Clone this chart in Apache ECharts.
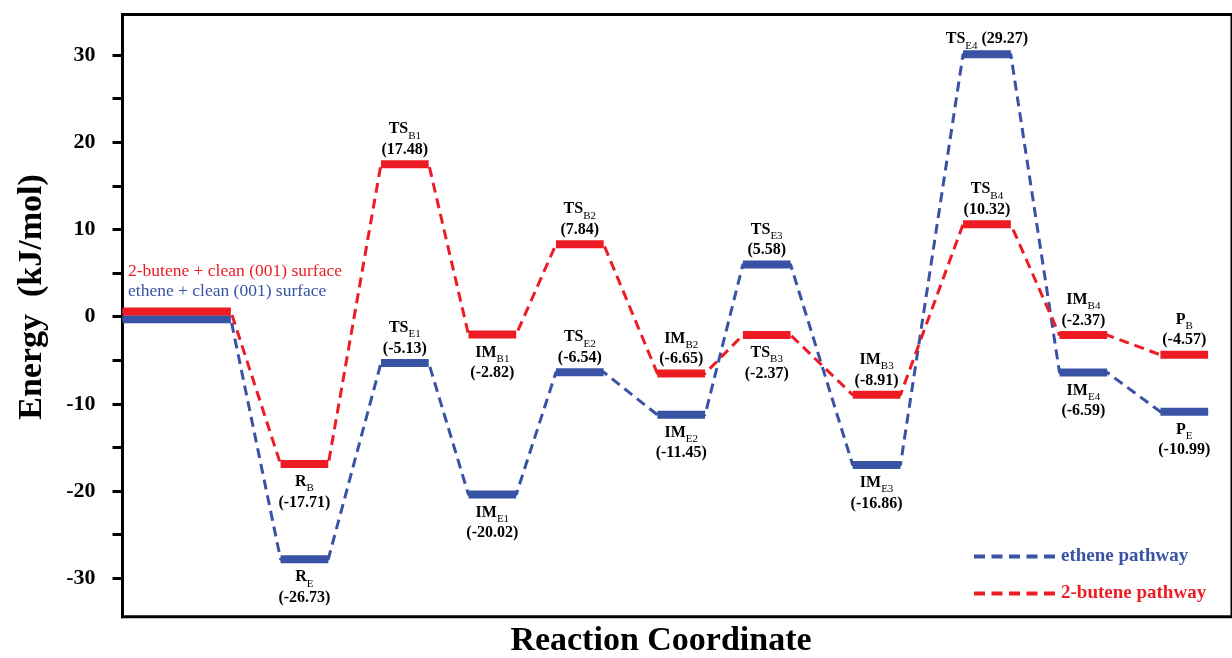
<!DOCTYPE html>
<html><head><meta charset="utf-8">
<script src="https://cdn.jsdelivr.net/npm/echarts@6/dist/echarts.min.js"></script>
<style>html,body{margin:0;padding:0;background:#fff}#c{width:1232px;height:658px}</style>
</head><body><div id="c"></div>
<script>
// ---------- data ----------
const stageNames = ['Start','R','TS1','IM1','TS2','IM2','TS3','IM3','TS4','IM4','P'];
const stageX = [0.545, 1.83, 2.84, 3.72, 4.60, 5.62, 6.48, 7.585, 8.695, 9.665, 10.68];
// drawn level positions (kJ/mol)
const etheneEnergy = [-0.3, -27.8, -5.3, -20.4, -6.36, -11.25, 5.99, -17.0, 30.1, -6.4, -10.9];
const buteneEnergy = [0.6, -16.9, 17.5, -2.04, 8.3, -6.5, -2.1, -8.96, 10.6, -2.1, -4.37];
// label texts
const etheneMain = ['', 'R', 'TS', 'IM', 'TS', 'IM', 'TS', 'IM', 'TS', 'IM', 'P'];
const etheneSub  = ['', 'E', 'E1', 'E1', 'E2', 'E2', 'E3', 'E3', 'E4', 'E4', 'E'];
const etheneVal  = ['', '(-26.73)', '(-5.13)', '(-20.02)', '(-6.54)', '(-11.45)', '(5.58)', '(-16.86)', '(29.27)', '(-6.59)', '(-10.99)'];
const buteneMain = ['', 'R', 'TS', 'IM', 'TS', 'IM', 'TS', 'IM', 'TS', 'IM', 'P'];
const buteneSub  = ['', 'B', 'B1', 'B1', 'B2', 'B2', 'B3', 'B3', 'B4', 'B4', 'B'];
const buteneVal  = ['', '(-17.71)', '(17.48)', '(-2.82)', '(7.84)', '(-6.65)', '(-2.37)', '(-8.91)', '(10.32)', '(-2.37)', '(-4.57)'];
const etheneSide = ['none', 'below', 'above', 'below', 'above', 'below', 'above', 'below', 'inline', 'below', 'below'];
const buteneSide = ['none', 'below', 'above', 'below', 'above', 'above', 'below', 'above', 'above', 'above', 'above'];
const yLabelValues = [-30, -20, -10, 0, 10, 20, 30];
const yTickValues = [-30, -25, -20, -15, -10, -5, 0, 5, 10, 15, 20, 25, 30];
const seriesNames = ['ethene pathway', '2-butene pathway'];
const noteTexts = ['2-butene + clean (001) surface', 'ethene + clean (001) surface'];

// ---------- style ----------
const BLUE = '#3953a4', RED = '#ed1c24';
const FONT = "'Liberation Serif','Times New Roman',serif";
const HALF_W = 0.24, START_HALF_W = 0.545;

function pathPoints(energy) {
  const pts = [];
  energy.forEach((e, i) => {
    const hw = i === 0 ? START_HALF_W : HALF_W;
    pts.push([stageX[i] - hw, e]);
    pts.push([stageX[i] + hw, e]);
  });
  return pts;
}

const rich = {
  h: {fontSize: 16, fontWeight: 'bold', fontFamily: FONT, color: '#000', lineHeight: 20, verticalAlign: 'top'},
  n: {fontSize: 16, fontWeight: 'bold', fontFamily: FONT, color: '#000', lineHeight: 17},
  s: {fontSize: 11, fontFamily: FONT, color: '#000', verticalAlign: 'bottom'}
};

function makeRender(color, mains, subs, vals, sides) {
  return function (params, api) {
    const i = params.dataIndex;
    const x = api.value(0), y = api.value(1);
    const hw = i === 0 ? START_HALF_W : HALF_W;
    const p0 = api.coord([x - hw, y]);
    const p1 = api.coord([x + hw, y]);
    const children = [{
      type: 'rect',
      shape: {x: p0[0], y: p0[1] - 4, width: p1[0] - p0[0], height: 8},
      style: {fill: color}
    }];
    const side = sides[i];
    const cx = (p0[0] + p1[0]) / 2;
    if (side !== 'none') {
      let text, ty, va;
      if (side === 'inline') {
        text = '{h|' + mains[i] + '}{s|' + subs[i] + '}{h| ' + vals[i] + '}';
        ty = p0[1] - 3; va = 'bottom';
      } else {
        text = '{h|' + mains[i] + '}{s|' + subs[i] + '}\n{n|' + vals[i] + '}';
        if (side === 'above') { ty = p0[1] - 6; va = 'bottom'; }
        else { ty = p0[1] + 10; va = 'top'; }
      }
      children.push({
        type: 'text', x: cx, y: ty,
        style: {text: text, rich: rich, align: 'center', verticalAlign: va}
      });
    }
    return {type: 'group', children: children};
  };
}

const chart = echarts.init(document.getElementById('c'));
chart.setOption({
  animation: false,
  backgroundColor: '#fff',
  grid: {left: 122.5, top: 14.5, right: -6, bottom: 41.3, show: true, borderWidth: 3, borderColor: '#000'},
  xAxis: {type: 'value', min: 0, max: 11.16, show: false},
  yAxis: {
    type: 'value', min: -34.4, max: 34.66,
    axisLine: {show: true, lineStyle: {color: '#000', width: 3}},
    axisTick: {show: true, length: 10, inside: false, lineStyle: {color: '#000', width: 3}, customValues: yTickValues},
    axisLabel: {show: true, margin: 27, color: '#000', fontSize: 22, fontWeight: 'bold', fontFamily: FONT, customValues: yLabelValues},
    splitLine: {show: false}
  },
  legend: {
    orient: 'vertical', left: 967, top: 542, itemWidth: 82, itemHeight: 14, itemGap: 18,
    selectedMode: false,
    itemStyle: {opacity: 0},
    lineStyle: {width: 4, type: [11, 6.5]},
    textStyle: {fontFamily: FONT, fontWeight: 'bold', fontSize: 19},
    data: [
      {name: seriesNames[0], textStyle: {color: BLUE}},
      {name: seriesNames[1], textStyle: {color: RED}}
    ]
  },
  series: [
    {name: seriesNames[0], type: 'line', data: pathPoints(etheneEnergy), symbol: 'none',
     lineStyle: {color: BLUE, width: 3, type: [10, 6]}, itemStyle: {color: BLUE}, z: 2},
    {name: seriesNames[1], type: 'line', data: pathPoints(buteneEnergy), symbol: 'none',
     lineStyle: {color: RED, width: 3, type: [10, 6]}, itemStyle: {color: RED}, z: 3},
    {name: 'ethene levels', type: 'custom', z: 4,
     data: stageX.map((x, i) => [x, etheneEnergy[i]]),
     renderItem: makeRender(BLUE, etheneMain, etheneSub, etheneVal, etheneSide)},
    {name: 'butene levels', type: 'custom', z: 5,
     data: stageX.map((x, i) => [x, buteneEnergy[i]]),
     renderItem: makeRender(RED, buteneMain, buteneSub, buteneVal, buteneSide)}
  ],
  graphic: [
    {type: 'text', left: 128, top: 262, style: {text: noteTexts[0], fill: RED, font: '17.5px ' + FONT}},
    {type: 'text', left: 128, top: 282, style: {text: noteTexts[1], fill: BLUE, font: '17.5px ' + FONT}},
    {type: 'text', x: 32, y: 297, rotation: Math.PI / 2,
     style: {text: 'Energy  (kJ/mol)', fill: '#000', font: 'bold 34px ' + FONT, align: 'center', verticalAlign: 'middle'}},
    {type: 'text', x: 661, y: 641,
     style: {text: 'Reaction Coordinate', fill: '#000', font: 'bold 34px ' + FONT, align: 'center', verticalAlign: 'middle'}}
  ]
});
</script></body></html>
